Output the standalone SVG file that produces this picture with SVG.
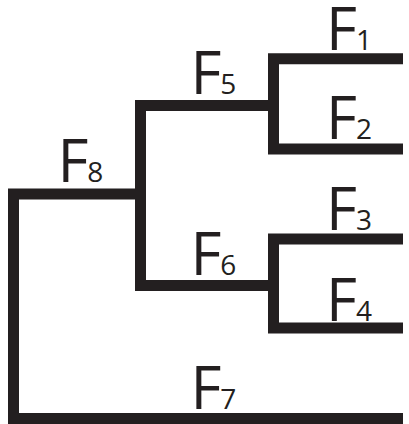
<svg xmlns="http://www.w3.org/2000/svg" width="409" height="424" viewBox="0 0 409 424">
<style>
.c{fill:none;stroke:#231f20;stroke-width:11;stroke-linejoin:miter;stroke-linecap:butt}
.l{font-family:"Open Sans","Liberation Sans",sans-serif;font-size:60px;fill:#231f20}
.s{font-size:28px}
</style>
<rect width="409" height="424" fill="#fff"/>
<g id="connectors">
<path class="c" d="M140.5,194 H13.5 V418.5 H403"/>
<path class="c" d="M268,105.5 H140.5 V285.5 H268"/>
<path class="c" d="M403,58.8 H273.5 V149 H403"/>
<path class="c" d="M403,239 H273.5 V328 H403"/>
</g>
<g id="F1"><text class="l" x="326" y="50">F<tspan class="s" dx="-1">1</tspan></text></g>
<g id="F2"><text class="l" x="326" y="139.3">F<tspan class="s" dx="-1">2</tspan></text></g>
<g id="F3"><text class="l" x="326" y="230">F<tspan class="s" dx="-1">3</tspan></text></g>
<g id="F4"><text class="l" x="326" y="320.7">F<tspan class="s" dx="-1">4</tspan></text></g>
<g id="F5"><text class="l" x="190.4" y="94">F<tspan class="s" dx="-1">5</tspan></text></g>
<g id="F6"><text class="l" x="190.4" y="275">F<tspan class="s" dx="-1">6</tspan></text></g>
<g id="F7"><text class="l" x="190.4" y="409.3">F<tspan class="s" dx="-1">7</tspan></text></g>
<g id="F8"><text class="l" x="57.4" y="181.7">F<tspan class="s" dx="-1">8</tspan></text></g>
</svg>
